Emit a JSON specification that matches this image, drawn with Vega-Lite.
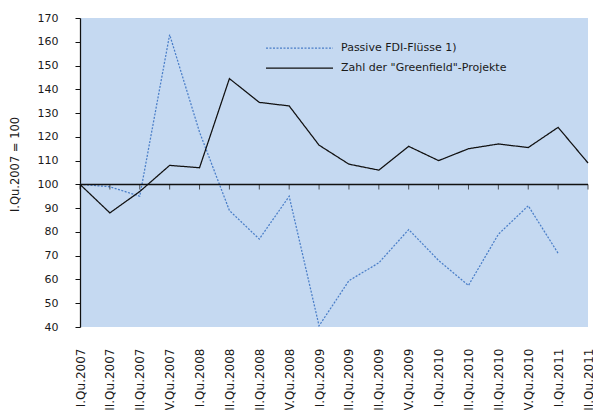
{
  "$schema": "https://vega.github.io/schema/vega-lite/v6.json",
  "width": 508,
  "height": 309,
  "autosize": {"type": "none"},
  "padding": {"left": 80, "top": 18, "right": 5, "bottom": 83},
  "config": {
    "view": {"fill": "#C5D9F1", "stroke": null},
    "font": "DejaVu Sans",
    "axis": {"labelColor": "#1a1a1a", "titleColor": "#1a1a1a", "labelFont": "DejaVu Sans", "titleFont": "DejaVu Sans"}
  },
  "resolve": {"axis": {"y": "independent"}},
  "datasets": {
    "series": [
      {"quarter": "I.Qu.2007", "series": "Passive FDI-Flüsse 1)", "value": 100},
      {"quarter": "II.Qu.2007", "series": "Passive FDI-Flüsse 1)", "value": 99},
      {"quarter": "III.Qu.2007", "series": "Passive FDI-Flüsse 1)", "value": 95},
      {"quarter": "IV.Qu.2007", "series": "Passive FDI-Flüsse 1)", "value": 163},
      {"quarter": "I.Qu.2008", "series": "Passive FDI-Flüsse 1)", "value": 122},
      {"quarter": "II.Qu.2008", "series": "Passive FDI-Flüsse 1)", "value": 89},
      {"quarter": "III.Qu.2008", "series": "Passive FDI-Flüsse 1)", "value": 77},
      {"quarter": "IV.Qu.2008", "series": "Passive FDI-Flüsse 1)", "value": 95},
      {"quarter": "I.Qu.2009", "series": "Passive FDI-Flüsse 1)", "value": 40.5},
      {"quarter": "II.Qu.2009", "series": "Passive FDI-Flüsse 1)", "value": 59.5},
      {"quarter": "III.Qu.2009", "series": "Passive FDI-Flüsse 1)", "value": 67},
      {"quarter": "IV.Qu.2009", "series": "Passive FDI-Flüsse 1)", "value": 81},
      {"quarter": "I.Qu.2010", "series": "Passive FDI-Flüsse 1)", "value": 68},
      {"quarter": "II.Qu.2010", "series": "Passive FDI-Flüsse 1)", "value": 57.5},
      {"quarter": "III.Qu.2010", "series": "Passive FDI-Flüsse 1)", "value": 79},
      {"quarter": "IV.Qu.2010", "series": "Passive FDI-Flüsse 1)", "value": 91},
      {"quarter": "I.Qu.2011", "series": "Passive FDI-Flüsse 1)", "value": 71},
      {"quarter": "I.Qu.2007", "series": "Zahl der \"Greenfield\"-Projekte", "value": 100},
      {"quarter": "II.Qu.2007", "series": "Zahl der \"Greenfield\"-Projekte", "value": 88},
      {"quarter": "III.Qu.2007", "series": "Zahl der \"Greenfield\"-Projekte", "value": 97},
      {"quarter": "IV.Qu.2007", "series": "Zahl der \"Greenfield\"-Projekte", "value": 108},
      {"quarter": "I.Qu.2008", "series": "Zahl der \"Greenfield\"-Projekte", "value": 107},
      {"quarter": "II.Qu.2008", "series": "Zahl der \"Greenfield\"-Projekte", "value": 144.5},
      {"quarter": "III.Qu.2008", "series": "Zahl der \"Greenfield\"-Projekte", "value": 134.5},
      {"quarter": "IV.Qu.2008", "series": "Zahl der \"Greenfield\"-Projekte", "value": 133},
      {"quarter": "I.Qu.2009", "series": "Zahl der \"Greenfield\"-Projekte", "value": 116.5},
      {"quarter": "II.Qu.2009", "series": "Zahl der \"Greenfield\"-Projekte", "value": 108.5},
      {"quarter": "III.Qu.2009", "series": "Zahl der \"Greenfield\"-Projekte", "value": 106},
      {"quarter": "IV.Qu.2009", "series": "Zahl der \"Greenfield\"-Projekte", "value": 116},
      {"quarter": "I.Qu.2010", "series": "Zahl der \"Greenfield\"-Projekte", "value": 110},
      {"quarter": "II.Qu.2010", "series": "Zahl der \"Greenfield\"-Projekte", "value": 115},
      {"quarter": "III.Qu.2010", "series": "Zahl der \"Greenfield\"-Projekte", "value": 117},
      {"quarter": "IV.Qu.2010", "series": "Zahl der \"Greenfield\"-Projekte", "value": 115.5},
      {"quarter": "I.Qu.2011", "series": "Zahl der \"Greenfield\"-Projekte", "value": 124},
      {"quarter": "II.Qu.2011", "series": "Zahl der \"Greenfield\"-Projekte", "value": 109}
    ]
  },
  "layer": [
    {
      "data": {"name": "series"},
      "mark": {"type": "line", "strokeWidth": 1.25},
      "encoding": {
        "x": {
          "field": "quarter", "type": "ordinal", "sort": null,
          "scale": {"type": "point", "padding": 0},
          "axis": {"title": null, "labelAngle": 270, "labelAlign": "right", "labelBaseline": "middle", "labelPadding": 21, "ticks": false, "domain": false, "labelFontSize": 12, "labelOverlap": false}
        },
        "y": {
          "field": "value", "type": "quantitative",
          "scale": {"domain": [40, 170], "nice": false, "zero": false},
          "axis": {
            "title": "I.Qu.2007 = 100", "titleFontSize": 11.5, "titleFontWeight": "normal",
            "titleX": -65, "titleY": 146, "titleAngle": 270, "titleAlign": "center", "titleBaseline": "middle",
            "values": [40, 50, 60, 70, 80, 90, 100, 110, 120, 130, 140, 150, 160, 170],
            "labelOverlap": false,
            "grid": false, "domainColor": "#111111", "domainWidth": 1.25, "tickColor": "#111111", "tickSize": 5,
            "labelPadding": 17, "labelFontSize": 11
          }
        },
        "color": {
          "field": "series", "type": "nominal",
          "scale": {"domain": ["Passive FDI-Flüsse 1)", "Zahl der \"Greenfield\"-Projekte"], "range": ["#4A7EC8", "#111111"]},
          "legend": {
            "title": null, "orient": "none", "legendX": 185, "legendY": 24, "padding": 0,
            "symbolType": "stroke", "symbolSize": 4489, "symbolStrokeWidth": 1.25, "labelOffset": 7,
            "labelFontSize": 11, "labelColor": "#1a1a1a", "rowPadding": 8, "clipHeight": 12, "labelLimit": 400
          }
        },
        "strokeDash": {
          "field": "series", "type": "nominal",
          "scale": {"domain": ["Passive FDI-Flüsse 1)", "Zahl der \"Greenfield\"-Projekte"], "range": [[2, 1.5], [1, 0]]},
          "legend": {
            "title": null, "orient": "none", "legendX": 185, "legendY": 24, "padding": 0,
            "symbolType": "stroke", "symbolSize": 4489, "symbolStrokeWidth": 1.25, "labelOffset": 7,
            "labelFontSize": 11, "labelColor": "#1a1a1a", "rowPadding": 8, "clipHeight": 12, "labelLimit": 400
          }
        }
      }
    },
    {
      "data": {"values": [{"ref": 100}]},
      "mark": {"type": "rule", "color": "#111111", "strokeWidth": 1.5},
      "encoding": {
        "y": {"field": "ref", "type": "quantitative", "axis": null}
      }
    },
    {
      "data": {"name": "series"},
      "transform": [{"filter": "datum.series === 'Zahl der \"Greenfield\"-Projekte'"}],
      "mark": {"type": "tick", "orient": "vertical", "size": 5, "thickness": 1, "color": "#111111", "yOffset": 2.5},
      "encoding": {
        "x": {
          "field": "quarter", "type": "ordinal", "sort": null,
          "scale": {"type": "point", "padding": 0},
          "axis": {"title": null, "labelAngle": 270, "labelAlign": "right", "labelBaseline": "middle", "labelPadding": 21, "ticks": false, "domain": false, "labelFontSize": 12, "labelOverlap": false}
        },
        "y": {"datum": 100, "type": "quantitative", "axis": null}
      }
    }
  ]
}
